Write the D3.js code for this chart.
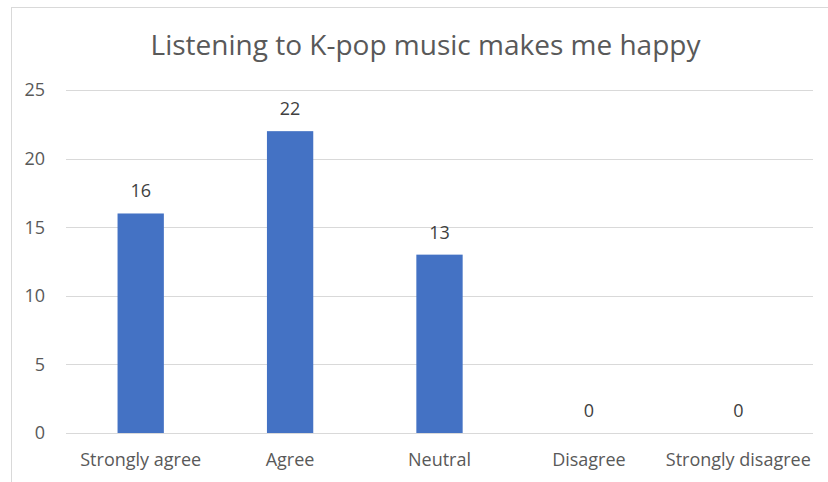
<!DOCTYPE html>
<html lang="en">
<head>
<meta charset="UTF-8">
<script src="https://d3js.org/d3.v7.min.js"></script>
<style>
  body { margin: 0; background: #fff; }
  svg { display: block; font-family: "Open Sans", Lato, sans-serif; }
</style>
</head>
<body>
<div id="chart"></div>
<script>
const categories = ["Strongly agree", "Agree", "Neutral", "Disagree", "Strongly disagree"];
const counts = [16, 22, 13, 0, 0];
const yTicks = [0, 5, 10, 15, 20, 25];
const title = "Listening to K-pop music makes me happy";

const width = 828, height = 482;
const margin = {top: 90, right: 15, bottom: 49, left: 66};

const svg = d3.select("#chart").append("svg")
    .attr("width", width)
    .attr("height", height);

// chart frame
svg.append("rect")
    .attr("x", 11.5).attr("y", 7.5)
    .attr("width", 830).attr("height", 490)
    .attr("fill", "#fff")
    .attr("stroke", "#d9d9d9");

const x = d3.scaleBand()
    .domain(categories)
    .range([margin.left, width - margin.right])
    .padding(0);

const y = d3.scaleLinear()
    .domain([0, 25])
    .range([height - margin.bottom, margin.top]);

// gridlines
svg.append("g")
    .selectAll("line")
    .data(yTicks)
    .join("line")
    .attr("x1", margin.left)
    .attr("x2", width - margin.right)
    .attr("y1", d => Math.round(y(d)) + 0.5)
    .attr("y2", d => Math.round(y(d)) + 0.5)
    .attr("stroke", "#d9d9d9")
    .attr("stroke-width", 1);

// y axis labels
svg.append("g")
    .selectAll("text")
    .data(yTicks)
    .join("text")
    .attr("x", 45)
    .attr("y", d => y(d))
    .attr("dy", "0.35em")
    .attr("text-anchor", "end")
    .attr("font-size", 18)
    .attr("fill", "#595959")
    .text(d => d);

// bars
const barW = x.bandwidth() * 0.31;
svg.append("g")
    .selectAll("rect")
    .data(counts)
    .join("rect")
    .attr("x", (d, i) => x(categories[i]) + (x.bandwidth() - barW) / 2)
    .attr("y", d => y(d))
    .attr("width", barW)
    .attr("height", d => y(0) - y(d))
    .attr("fill", "#4472c4");

// data labels
svg.append("g")
    .selectAll("text")
    .data(counts)
    .join("text")
    .attr("x", (d, i) => x(categories[i]) + x.bandwidth() / 2)
    .attr("y", d => y(d) - 16)
    .attr("text-anchor", "middle")
    .attr("font-size", 18)
    .attr("fill", "#404040")
    .text(d => d);

// category labels
svg.append("g")
    .selectAll("text")
    .data(categories)
    .join("text")
    .attr("x", d => x(d) + x.bandwidth() / 2)
    .attr("y", height - margin.bottom + 33)
    .attr("text-anchor", "middle")
    .attr("font-size", 18)
    .attr("fill", "#595959")
    .text(d => d);

// title
svg.append("text")
    .attr("x", (152 + 699) / 2)
    .attr("y", 55)
    .attr("text-anchor", "middle")
    .attr("font-size", 28)
    .attr("fill", "#595959")
    .text(title);
</script>
</body>
</html>
